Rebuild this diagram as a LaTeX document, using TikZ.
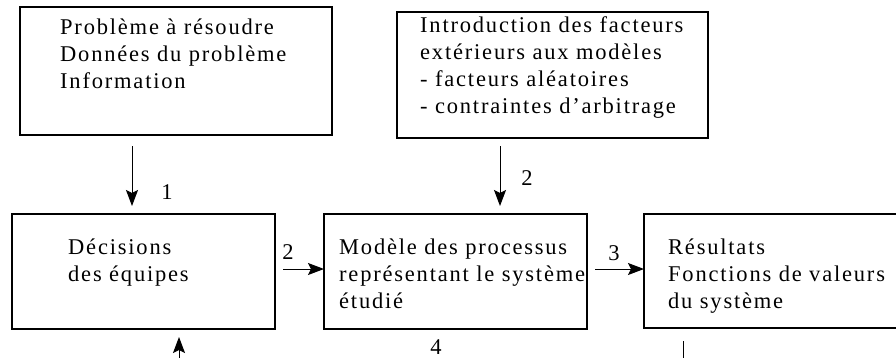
\documentclass[tikz,border=0pt]{standalone}
\usepackage{fontspec}
\setmainfont{Liberation Serif}[LetterSpace=8]
\usetikzlibrary{arrows.meta}
\begin{document}
\begin{tikzpicture}[x=1pt,y=-1pt,
  box/.style={draw, line width=1.2pt, rectangle, inner sep=0pt, outer sep=0pt, anchor=north west},
  txt/.style={anchor=base west, inner sep=0pt, align=left, font=\fontsize{22.5}{27.2}\selectfont},
  lbl/.style={anchor=base, inner sep=0pt, font=\fontsize{22.5}{27.2}\selectfont},
  arr/.style={-{Stealth[length=16pt,width=12pt,inset=3pt]}, line width=1pt},
  ln/.style={line width=1pt}]
\useasboundingbox (0,0) rectangle (896,357);
% boxes
\node[box, minimum width=312pt, minimum height=128pt] (A) at (20,7) {};
\node[box, minimum width=311pt, minimum height=126pt] (B) at (397,12) {};
\node[box, minimum width=263pt, minimum height=115pt] (C) at (12,214) {};
\node[box, minimum width=263pt, minimum height=115pt] (D) at (324,214) {};
\node[box, minimum width=270pt, minimum height=114pt] (E) at (644,214) {};
% texts (anchored at the baseline of their last line)
\node[txt] (tA) at (60,88.4) {Problème à résoudre\\Données du problème\\Information};
\node[txt] (tB) at (420,113.6) {Introduction des facteurs\\extérieurs aux modèles\\- facteurs aléatoires\\- contraintes d’arbitrage};
\node[txt] (tC) at (68,281.2) {Décisions\\des équipes};
\node[txt] (tD) at (339,308.4) {Modèle des processus\\représentant le système\\étudié};
\node[txt] (tE) at (668,308.4) {Résultats\\Fonctions de valeurs\\du système};
% connector ends
\coordinate (s1) at (132,146);
\coordinate (e1) at (132,206);
\coordinate (s2) at (500,146);
\coordinate (e2) at (500,206);
\coordinate (s3) at (283,269);
\coordinate (s4) at (595,269);
\coordinate (s5) at (179,360);
\coordinate (e5) at (179,337);
\coordinate (s6) at (683,341);
\coordinate (e6) at (683,360);
% connectors
\draw[arr] (s1) -- (e1);
\draw[arr] (s2) -- (e2);
\draw[arr] (s3) -- (s3 -| D.west);
\draw[arr] (s4) -- (s4 -| E.west);
\draw[arr] (s5) -- (e5);
\draw[ln] (s6) -- (e6);
% labels
\node[lbl] (l1) at (167,199) {1};
\node[lbl] (l2) at (527,185) {2};
\node[lbl] (l3) at (288,259) {2};
\node[lbl] (l4) at (614,260) {3};
\node[lbl] (l5) at (436,354) {4};
\end{tikzpicture}
\end{document}
